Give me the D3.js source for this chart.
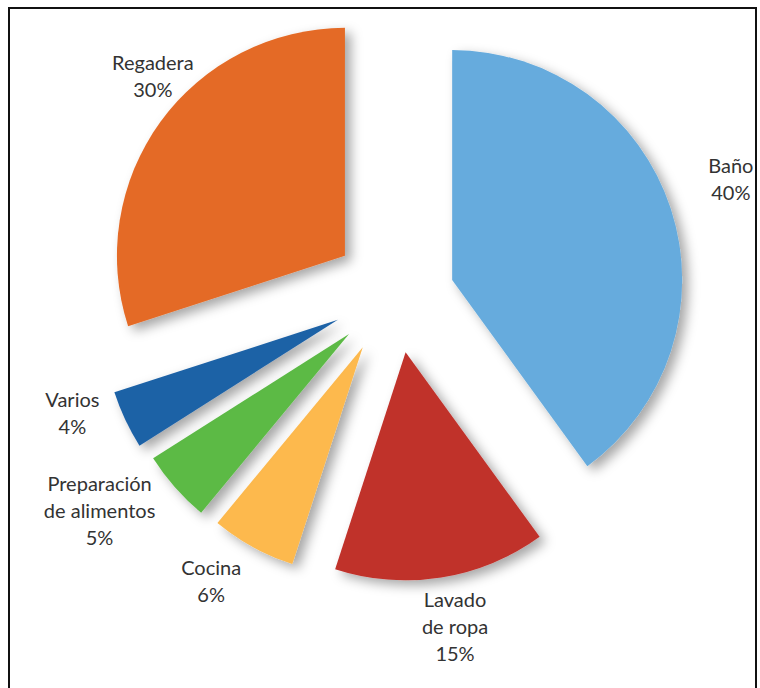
<!DOCTYPE html>
<html>
<head>
<meta charset="utf-8">
<script src="https://cdn.jsdelivr.net/npm/d3@7"></script>
<style>
  body { margin: 0; background: #fff; }
  svg text { font-family: Lato, "Open Sans", sans-serif; fill: #333; }
</style>
</head>
<body>
<div id="chart"></div>
<script>
// data (clockwise from 12 o'clock)
let categories = ["Baño", "Lavado de ropa", "Cocina", "Preparación de alimentos", "Varios", "Regadera"];
let values = [40, 15, 6, 5, 4, 30];
let labelLines = [["Baño", "40%"], ["Lavado", "de ropa", "15%"], ["Cocina", "6%"],
                  ["Preparación", "de alimentos", "5%"], ["Varios", "4%"], ["Regadera", "30%"]];
let colors = ["#66abdd", "#c0302a", "#fdb94d", "#5bba45", "#1f62a6", "#e46b26"];

// layout of the exploded slices
let sliceRadius = [230, 228, 228, 232, 235, 228];
let explodeDist = [58, 55, 60, 60, 63, 67];
let explodeShift = [0, 0, 6, 4.5, 5, 3];   // degrees added to the mid angle
let labelShift = [-0.5, -0.8, 3.8, 4.9, 4.5, 5.3];
let labelRadius = [352, 341, 345, 370, 347, 325];

let svgWidth = 760;
let svgHeight = 688;
let center = {x: 397, y: 298};
let lineHeight = 27;

let svg = d3.select("#chart")
  .append("svg")
  .attr("width", svgWidth)
  .attr("height", svgHeight);

// soft drop shadow like the original
let filter = svg.append("defs").append("filter")
  .attr("id", "shadow")
  .attr("x", "-20%").attr("y", "-20%")
  .attr("width", "140%").attr("height", "140%");
filter.append("feDropShadow")
  .attr("dx", 6).attr("dy", 5)
  .attr("stdDeviation", 6)
  .attr("flood-color", "#000")
  .attr("flood-opacity", 0.35);

// frame
svg.append("rect")
  .attr("x", 9).attr("y", 8)
  .attr("width", 747).attr("height", 720)
  .attr("fill", "none")
  .attr("stroke", "#111")
  .attr("stroke-width", 2);

let pie = d3.pie().sort(null).value(d => d)(values);
let arc = d3.arc().innerRadius(0).outerRadius(d => sliceRadius[d.index]);

let deg = Math.PI / 180;
function midAngle(d) {
  return (d.startAngle + d.endAngle) / 2;
}

let chartGroup = svg.append("g")
  .attr("transform", `translate(${center.x}, ${center.y})`);

chartGroup.selectAll("path")
  .data(pie)
  .enter()
  .append("path")
  .attr("d", arc)
  .attr("fill", (d, i) => colors[i])
  .attr("filter", "url(#shadow)")
  .attr("transform", (d, i) => {
    let a = midAngle(d) + explodeShift[i] * deg;
    return `translate(${Math.sin(a) * explodeDist[i]}, ${-Math.cos(a) * explodeDist[i]})`;
  });

let labels = chartGroup.selectAll("text.label")
  .data(pie)
  .enter()
  .append("text")
  .attr("class", "label")
  .attr("text-anchor", "middle")
  .attr("font-size", 20)
  .attr("x", (d, i) => Math.sin(midAngle(d) + labelShift[i] * deg) * labelRadius[i])
  .attr("y", (d, i) => -Math.cos(midAngle(d) + labelShift[i] * deg) * labelRadius[i]);

labels.each(function(d, i) {
  let t = d3.select(this);
  let lines = labelLines[i];
  let x = t.attr("x");
  let y0 = +t.attr("y") - (lines.length - 1) * lineHeight / 2;
  lines.forEach((line, k) => {
    t.append("tspan")
      .attr("x", x)
      .attr("y", y0 + k * lineHeight)
      .text(line);
  });
});
</script>
</body>
</html>
